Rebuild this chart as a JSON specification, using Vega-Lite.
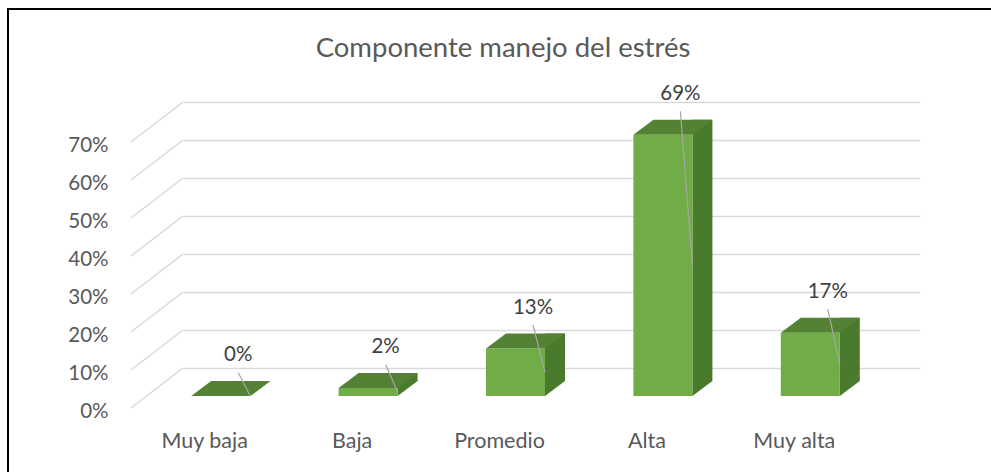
{
  "$schema": "https://vega.github.io/schema/vega-lite/v6.json",
  "autosize": "none",
  "padding": {"left": 8, "top": 9, "right": -20, "bottom": -20},
  "width": 1003,
  "height": 483,
  "background": "white",
  "config": {"view": {"stroke": "black", "strokeWidth": 2}, "font": "Lato"},
  "title": {
    "text": "Componente manejo del estrés",
    "font": "Lato",
    "fontSize": 27.5,
    "fontWeight": "normal",
    "color": "#595959",
    "anchor": "middle",
    "frame": "group",
    "orient": "top",
    "baseline": "alphabetic",
    "offset": -75,
    "dx": -6.5
  },
  "datasets": {
    "bars": [
      {"cat": "Muy baja", "v": 0},
      {"cat": "Baja", "v": 0.0208},
      {"cat": "Promedio", "v": 0.125},
      {"cat": "Alta", "v": 0.6875},
      {"cat": "Muy alta", "v": 0.1667}
    ],
    "ticks": [
      {"t": 0}, {"t": 0.1}, {"t": 0.2}, {"t": 0.3}, {"t": 0.4}, {"t": 0.5}, {"t": 0.6}, {"t": 0.7}
    ]
  },
  "data": {"name": "bars"},
  "encoding": {
    "x": {
      "field": "cat",
      "type": "nominal",
      "sort": null,
      "scale": {"range": [175, 912], "paddingInner": 0, "paddingOuter": 0},
      "axis": {
        "title": null,
        "domain": false,
        "ticks": false,
        "grid": false,
        "labelAngle": 0,
        "labelOffset": -52,
        "offset": -96,
        "labelPadding": 34,
        "labelFont": "Lato",
        "labelFontSize": 21.5,
        "labelColor": "#595959"
      }
    },
    "y": {
      "field": "v",
      "type": "quantitative",
      "scale": {"domain": [0, 0.7], "range": [387, 121], "nice": false, "zero": true},
      "axis": {
        "title": null,
        "values": [0, 0.1, 0.2, 0.3, 0.4, 0.5, 0.6, 0.7],
        "format": ".0%",
        "domain": false,
        "ticks": false,
        "grid": true,
        "gridColor": "#D9D9D9",
        "gridWidth": 1.5,
        "tickOffset": -28,
        "labelOffset": 43,
        "offset": -175,
        "labelPadding": 75,
        "labelFont": "Lato",
        "labelFontSize": 20.5,
        "labelColor": "#595959"
      }
    }
  },
  "layer": [
    {
      "data": {"name": "ticks"},
      "mark": {"type": "rule", "color": "#D9D9D9", "strokeWidth": 1.5, "xOffset": -125.7, "x2Offset": -73.7, "yOffset": 12, "y2Offset": -28},
      "encoding": {
        "x": {"datum": "Muy baja", "type": "nominal"},
        "x2": {"datum": "Muy baja"},
        "y": {"field": "t", "type": "quantitative"},
        "y2": {"field": "t"}
      }
    },
    {
      "mark": {"type": "bar", "color": "#4A7A2C", "width": 20, "xOffset": 3.5, "yOffset": -15, "y2Offset": -15},
      "encoding": {"y2": {"datum": 0}}
    },
    {
      "mark": {"type": "point", "shape": "M 0.7375 -0.375 L 0.7375 0 L 1.2375 -0.375 Z", "size": 6400, "filled": true, "opacity": 1, "color": "#4A7A2C", "strokeWidth": 0, "xOffset": -36},
      "encoding": {"y": {"datum": 0}}
    },
    {
      "mark": {"type": "bar", "color": "#70AD47", "width": 59, "xOffset": -36},
      "encoding": {"y2": {"datum": 0}}
    },
    {
      "mark": {"type": "point", "shape": "M -0.7375 0 L 0.7375 0 L 1.2375 -0.375 L -0.2375 -0.375 Z", "size": 6400, "filled": true, "opacity": 1, "color": "#548235", "strokeWidth": 0, "xOffset": -36}
    },
    {
      "transform": [{"calculate": "datum.v / 2", "as": "mitad"}],
      "mark": {"type": "rule", "color": "#A6A6A6", "strokeWidth": 1.2, "xOffset": -18.5, "x2Offset": -6.5, "yOffset": -23.5},
      "encoding": {"x2": {"field": "cat"}, "y2": {"field": "mitad"}}
    },
    {
      "mark": {"type": "text", "font": "Lato", "fontSize": 20.5, "color": "#404040", "baseline": "middle", "align": "center", "xOffset": -18.5, "yOffset": -41},
      "encoding": {"text": {"field": "v", "type": "quantitative", "format": ".0%"}}
    }
  ]
}
